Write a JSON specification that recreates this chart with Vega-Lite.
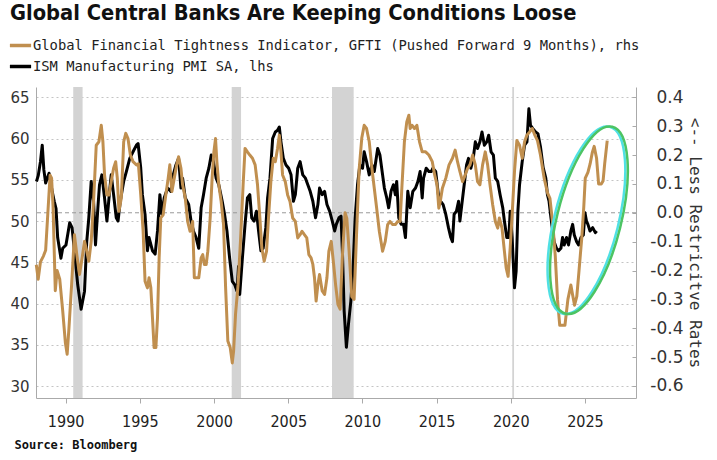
{
  "$schema": "https://vega.github.io/schema/vega-lite/v6.json",
  "width": 600,
  "height": 311,
  "autosize": {"type": "none"},
  "padding": {"left": 36, "top": 87, "right": 81, "bottom": 62},
  "background": "white",
  "config": {"view": {"stroke": null}, "font": "DejaVu Sans"},
  "title": {"text": "Global Central Banks Are Keeping Conditions Loose", "anchor": "start", "frame": "group", "font": "DejaVu Sans Condensed", "fontWeight": "bold", "fontSize": 21.7, "color": "#111111", "dx": -26, "offset": 8},
  "datasets": {
    "rec": [{"s": 1990.51, "e": 1991.14}, {"s": 2001.19, "e": 2001.82}, {"s": 2007.95, "e": 2009.41}, {"s": 2020.1, "e": 2020.22}],
    "pmi": [
      {"t":1988.03,"v":54.8},{"t":1988.15,"v":55.5},{"t":1988.3,"v":57.2},{"t":1988.42,"v":59.2},{"t":1988.53,"v":56.2},{"t":1988.65,"v":54.6},{"t":1988.88,"v":55.8},{"t":1989.1,"v":53.5},{"t":1989.23,"v":52.4},{"t":1989.35,"v":51.5},{"t":1989.46,"v":48},{"t":1989.68,"v":45.5},{"t":1989.8,"v":46.7},{"t":1990.02,"v":47.1},{"t":1990.15,"v":48.5},{"t":1990.27,"v":49.8},{"t":1990.43,"v":49.2},{"t":1990.59,"v":46.4},{"t":1990.81,"v":42.3},{"t":1991.04,"v":39.3},{"t":1991.27,"v":41.5},{"t":1991.42,"v":47.5},{"t":1991.56,"v":50.4},{"t":1991.72,"v":54.8},{"t":1991.88,"v":52.4},{"t":1992.01,"v":47.1},{"t":1992.17,"v":51.6},{"t":1992.28,"v":54.4},{"t":1992.44,"v":55.6},{"t":1992.62,"v":52.8},{"t":1992.78,"v":50},{"t":1992.96,"v":53.6},{"t":1993.07,"v":55.6},{"t":1993.23,"v":53.2},{"t":1993.41,"v":50.4},{"t":1993.53,"v":50},{"t":1993.68,"v":52.4},{"t":1993.91,"v":54.8},{"t":1994.09,"v":56},{"t":1994.32,"v":57.6},{"t":1994.54,"v":58.4},{"t":1994.77,"v":59.2},{"t":1994.88,"v":59.4},{"t":1995.06,"v":56.4},{"t":1995.17,"v":53.2},{"t":1995.35,"v":50.8},{"t":1995.51,"v":46.4},{"t":1995.62,"v":48},{"t":1995.85,"v":46.4},{"t":1996.03,"v":46},{"t":1996.19,"v":48.8},{"t":1996.35,"v":53.2},{"t":1996.48,"v":50.8},{"t":1996.64,"v":52.8},{"t":1996.87,"v":54},{"t":1997.09,"v":53.6},{"t":1997.25,"v":55.6},{"t":1997.43,"v":56.8},{"t":1997.61,"v":57.6},{"t":1997.77,"v":54},{"t":1997.88,"v":55.2},{"t":1998.06,"v":52.8},{"t":1998.29,"v":52},{"t":1998.45,"v":50},{"t":1998.61,"v":48.8},{"t":1998.79,"v":48},{"t":1998.97,"v":46.7},{"t":1999.13,"v":51.6},{"t":1999.29,"v":53.2},{"t":1999.47,"v":55.2},{"t":1999.65,"v":56.4},{"t":1999.81,"v":58},{"t":1999.96,"v":57.2},{"t":2000.14,"v":55.2},{"t":2000.32,"v":54.4},{"t":2000.55,"v":52.4},{"t":2000.71,"v":50.8},{"t":2000.87,"v":48.8},{"t":2001.05,"v":45.5},{"t":2001.23,"v":42.7},{"t":2001.39,"v":42.3},{"t":2001.55,"v":41.5},{"t":2001.65,"v":44.5},{"t":2001.73,"v":41.1},{"t":2001.91,"v":45.5},{"t":2002.09,"v":49.6},{"t":2002.25,"v":52.8},{"t":2002.41,"v":53.2},{"t":2002.54,"v":50.4},{"t":2002.7,"v":50},{"t":2002.86,"v":51.2},{"t":2003.0,"v":48.8},{"t":2003.16,"v":46.4},{"t":2003.31,"v":46.7},{"t":2003.49,"v":49.2},{"t":2003.61,"v":52.8},{"t":2003.77,"v":55.2},{"t":2003.95,"v":60},{"t":2004.13,"v":60.8},{"t":2004.28,"v":61},{"t":2004.4,"v":61.4},{"t":2004.51,"v":59.6},{"t":2004.67,"v":57.6},{"t":2004.85,"v":56.8},{"t":2005.03,"v":56.4},{"t":2005.19,"v":55.6},{"t":2005.35,"v":52.4},{"t":2005.48,"v":53.2},{"t":2005.64,"v":56.4},{"t":2005.8,"v":57.2},{"t":2005.98,"v":55.6},{"t":2006.16,"v":55.2},{"t":2006.32,"v":54.4},{"t":2006.48,"v":53.6},{"t":2006.66,"v":52.4},{"t":2006.84,"v":50.4},{"t":2007.0,"v":52},{"t":2007.11,"v":54},{"t":2007.29,"v":53.2},{"t":2007.45,"v":53.6},{"t":2007.61,"v":52},{"t":2007.79,"v":51.2},{"t":2007.97,"v":50},{"t":2008.13,"v":48.8},{"t":2008.24,"v":49.6},{"t":2008.42,"v":50.4},{"t":2008.56,"v":50.6},{"t":2008.65,"v":46.4},{"t":2008.77,"v":39.1},{"t":2008.92,"v":34.7},{"t":2009.06,"v":37.5},{"t":2009.22,"v":40.3},{"t":2009.37,"v":44.3},{"t":2009.51,"v":50.4},{"t":2009.67,"v":54.4},{"t":2009.83,"v":56.8},{"t":2010.01,"v":56.4},{"t":2010.12,"v":58.4},{"t":2010.28,"v":57.2},{"t":2010.46,"v":55.6},{"t":2010.64,"v":56.8},{"t":2010.8,"v":56},{"t":2011.03,"v":58.8},{"t":2011.18,"v":58},{"t":2011.36,"v":55.6},{"t":2011.48,"v":54},{"t":2011.64,"v":52.8},{"t":2011.77,"v":51.6},{"t":2011.93,"v":53.6},{"t":2012.09,"v":54.4},{"t":2012.22,"v":53.2},{"t":2012.31,"v":54.8},{"t":2012.45,"v":50.4},{"t":2012.61,"v":49.6},{"t":2012.77,"v":49.6},{"t":2012.9,"v":48},{"t":2013.06,"v":53.6},{"t":2013.22,"v":51.6},{"t":2013.4,"v":53.6},{"t":2013.58,"v":54},{"t":2013.74,"v":54.8},{"t":2013.89,"v":56},{"t":2014.03,"v":52.8},{"t":2014.12,"v":55.2},{"t":2014.3,"v":56.4},{"t":2014.48,"v":56},{"t":2014.64,"v":56},{"t":2014.75,"v":56.4},{"t":2014.94,"v":56},{"t":2015.12,"v":53.2},{"t":2015.28,"v":52.4},{"t":2015.44,"v":52},{"t":2015.62,"v":50.8},{"t":2015.8,"v":49.2},{"t":2015.96,"v":48},{"t":2016.07,"v":47.5},{"t":2016.18,"v":50.8},{"t":2016.34,"v":51.2},{"t":2016.48,"v":52.4},{"t":2016.57,"v":50},{"t":2016.7,"v":52},{"t":2016.86,"v":54.4},{"t":2017.02,"v":56.8},{"t":2017.15,"v":57.6},{"t":2017.31,"v":56.4},{"t":2017.47,"v":57.6},{"t":2017.61,"v":59.6},{"t":2017.76,"v":58.8},{"t":2017.92,"v":59.6},{"t":2018.06,"v":60.8},{"t":2018.22,"v":59.2},{"t":2018.38,"v":59.6},{"t":2018.51,"v":60.4},{"t":2018.67,"v":58.4},{"t":2018.83,"v":58},{"t":2018.96,"v":55.2},{"t":2019.12,"v":54.8},{"t":2019.28,"v":53.2},{"t":2019.46,"v":51.6},{"t":2019.57,"v":50},{"t":2019.73,"v":48},{"t":2019.87,"v":48},{"t":2019.96,"v":51.2},{"t":2020.09,"v":48},{"t":2020.25,"v":41.9},{"t":2020.36,"v":43.9},{"t":2020.48,"v":51.2},{"t":2020.59,"v":54.4},{"t":2020.77,"v":57.2},{"t":2020.93,"v":59.2},{"t":2021.09,"v":59.6},{"t":2021.22,"v":63.6},{"t":2021.33,"v":61.6},{"t":2021.49,"v":61.2},{"t":2021.67,"v":60.8},{"t":2021.83,"v":60.6},{"t":2022.0,"v":59},{"t":2022.18,"v":56.5},{"t":2022.36,"v":55.2},{"t":2022.47,"v":53.2},{"t":2022.58,"v":52.4},{"t":2022.7,"v":50.5},{"t":2022.81,"v":49},{"t":2022.92,"v":47.5},{"t":2023.08,"v":46.7},{"t":2023.22,"v":46.4},{"t":2023.38,"v":46.7},{"t":2023.49,"v":48},{"t":2023.6,"v":47.1},{"t":2023.76,"v":48},{"t":2023.89,"v":47.1},{"t":2024.05,"v":48.8},{"t":2024.17,"v":49.6},{"t":2024.28,"v":48.3},{"t":2024.44,"v":47.5},{"t":2024.57,"v":47.1},{"t":2024.73,"v":48},{"t":2024.89,"v":48.3},{"t":2025.0,"v":51},{"t":2025.1,"v":50},{"t":2025.2,"v":49.6},{"t":2025.34,"v":48.8},{"t":2025.52,"v":49.2},{"t":2025.7,"v":48.6},{"t":2025.79,"v":48.8}
    ],
    "gfti": [
      {"t":1988.02,"v":-0.18},{"t":1988.15,"v":-0.23},{"t":1988.3,"v":-0.17},{"t":1988.5,"v":-0.15},{"t":1988.65,"v":-0.13},{"t":1988.8,"v":0.0},{"t":1988.95,"v":0.13},{"t":1989.05,"v":0.12},{"t":1989.15,"v":0.02},{"t":1989.3,"v":-0.27},{"t":1989.42,"v":-0.2},{"t":1989.6,"v":-0.23},{"t":1989.8,"v":-0.34},{"t":1989.98,"v":-0.45},{"t":1990.1,"v":-0.49},{"t":1990.22,"v":-0.4},{"t":1990.4,"v":-0.25},{"t":1990.59,"v":-0.076},{"t":1990.75,"v":-0.145},{"t":1990.93,"v":-0.214},{"t":1991.11,"v":-0.156},{"t":1991.27,"v":-0.099},{"t":1991.42,"v":-0.133},{"t":1991.56,"v":-0.168},{"t":1991.72,"v":-0.099},{"t":1991.88,"v":0.039},{"t":1992.06,"v":0.234},{"t":1992.24,"v":0.246},{"t":1992.4,"v":0.303},{"t":1992.51,"v":0.246},{"t":1992.62,"v":0.131},{"t":1992.78,"v":0.062},{"t":1992.92,"v":0.062},{"t":1993.07,"v":0.108},{"t":1993.23,"v":0.154},{"t":1993.37,"v":0.177},{"t":1993.48,"v":0.12},{"t":1993.59,"v":0.005},{"t":1993.75,"v":0.051},{"t":1993.91,"v":0.246},{"t":1994.05,"v":0.275},{"t":1994.2,"v":0.257},{"t":1994.36,"v":0.2},{"t":1994.54,"v":0.177},{"t":1994.77,"v":0.166},{"t":1994.9,"v":0.17},{"t":1995.06,"v":0.062},{"t":1995.22,"v":-0.064},{"t":1995.35,"v":-0.237},{"t":1995.51,"v":-0.26},{"t":1995.62,"v":-0.225},{"t":1995.74,"v":-0.26},{"t":1995.85,"v":-0.363},{"t":1995.96,"v":-0.467},{"t":1996.08,"v":-0.467},{"t":1996.19,"v":-0.363},{"t":1996.3,"v":-0.156},{"t":1996.41,"v":-0.018},{"t":1996.57,"v":-0.007},{"t":1996.75,"v":0.062},{"t":1996.91,"v":0.12},{"t":1997.02,"v":0.166},{"t":1997.16,"v":0.074},{"t":1997.32,"v":0.12},{"t":1997.48,"v":0.166},{"t":1997.61,"v":0.194},{"t":1997.77,"v":0.154},{"t":1997.88,"v":0.097},{"t":1998.06,"v":0.051},{"t":1998.22,"v":-0.03},{"t":1998.38,"v":-0.064},{"t":1998.56,"v":-0.03},{"t":1998.67,"v":-0.225},{"t":1998.79,"v":-0.225},{"t":1998.97,"v":-0.225},{"t":1999.13,"v":-0.156},{"t":1999.24,"v":-0.145},{"t":1999.35,"v":-0.179},{"t":1999.47,"v":-0.179},{"t":1999.58,"v":-0.133},{"t":1999.74,"v":-0.018},{"t":1999.87,"v":0.12},{"t":1999.99,"v":0.211},{"t":2000.1,"v":0.257},{"t":2000.19,"v":0.177},{"t":2000.32,"v":0.097},{"t":2000.48,"v":0.039},{"t":2000.64,"v":-0.041},{"t":2000.78,"v":-0.26},{"t":2000.93,"v":-0.444},{"t":2001.09,"v":-0.467},{"t":2001.23,"v":-0.52},{"t":2001.32,"v":-0.478},{"t":2001.45,"v":-0.35},{"t":2001.62,"v":-0.25},{"t":2001.78,"v":-0.1},{"t":2001.96,"v":0.097},{"t":2002.09,"v":0.223},{"t":2002.25,"v":0.211},{"t":2002.41,"v":0.2},{"t":2002.59,"v":0.189},{"t":2002.77,"v":0.166},{"t":2002.93,"v":0.097},{"t":2003.09,"v":-0.018},{"t":2003.22,"v":-0.122},{"t":2003.38,"v":-0.168},{"t":2003.54,"v":-0.133},{"t":2003.67,"v":-0.018},{"t":2003.83,"v":0.108},{"t":2003.99,"v":0.189},{"t":2004.13,"v":0.177},{"t":2004.28,"v":0.223},{"t":2004.4,"v":0.269},{"t":2004.51,"v":0.211},{"t":2004.62,"v":0.131},{"t":2004.8,"v":0.108},{"t":2004.96,"v":0.062},{"t":2005.12,"v":0.039},{"t":2005.3,"v":-0.018},{"t":2005.48,"v":-0.03},{"t":2005.64,"v":-0.087},{"t":2005.8,"v":-0.076},{"t":2005.93,"v":-0.064},{"t":2006.09,"v":-0.076},{"t":2006.25,"v":-0.087},{"t":2006.39,"v":-0.145},{"t":2006.54,"v":-0.156},{"t":2006.66,"v":-0.179},{"t":2006.77,"v":-0.225},{"t":2006.88,"v":-0.306},{"t":2007.0,"v":-0.248},{"t":2007.11,"v":-0.214},{"t":2007.29,"v":-0.271},{"t":2007.45,"v":-0.283},{"t":2007.61,"v":-0.225},{"t":2007.74,"v":-0.133},{"t":2007.9,"v":-0.099},{"t":2008.06,"v":-0.179},{"t":2008.19,"v":-0.248},{"t":2008.35,"v":-0.317},{"t":2008.5,"v":-0.334},{"t":2008.65,"v":-0.15},{"t":2008.83,"v":0.0},{"t":2008.95,"v":-0.02},{"t":2009.1,"v":-0.13},{"t":2009.28,"v":-0.29},{"t":2009.44,"v":-0.3},{"t":2009.6,"v":-0.08},{"t":2009.78,"v":0.15},{"t":2009.96,"v":0.26},{"t":2010.12,"v":0.303},{"t":2010.28,"v":0.292},{"t":2010.46,"v":0.246},{"t":2010.64,"v":0.154},{"t":2010.8,"v":0.085},{"t":2010.96,"v":0.016},{"t":2011.14,"v":-0.064},{"t":2011.36,"v":-0.133},{"t":2011.54,"v":-0.099},{"t":2011.7,"v":-0.041},{"t":2011.86,"v":-0.03},{"t":2012.04,"v":-0.041},{"t":2012.22,"v":-0.041},{"t":2012.38,"v":-0.03},{"t":2012.54,"v":-0.03},{"t":2012.67,"v":0.097},{"t":2012.83,"v":0.246},{"t":2012.99,"v":0.315},{"t":2013.13,"v":0.338},{"t":2013.22,"v":0.292},{"t":2013.35,"v":0.303},{"t":2013.51,"v":0.292},{"t":2013.67,"v":0.303},{"t":2013.85,"v":0.246},{"t":2014.03,"v":0.211},{"t":2014.26,"v":0.211},{"t":2014.48,"v":0.2},{"t":2014.71,"v":0.177},{"t":2014.87,"v":0.131},{"t":2015.03,"v":0.097},{"t":2015.15,"v":0.016},{"t":2015.25,"v":0.04},{"t":2015.39,"v":0.085},{"t":2015.62,"v":0.12},{"t":2015.84,"v":0.166},{"t":2016.07,"v":0.189},{"t":2016.25,"v":0.217},{"t":2016.41,"v":0.177},{"t":2016.57,"v":0.143},{"t":2016.75,"v":0.108},{"t":2016.93,"v":0.131},{"t":2017.09,"v":0.154},{"t":2017.25,"v":0.166},{"t":2017.43,"v":0.2},{"t":2017.61,"v":0.166},{"t":2017.76,"v":0.108},{"t":2017.92,"v":0.097},{"t":2018.1,"v":0.166},{"t":2018.28,"v":0.211},{"t":2018.44,"v":0.166},{"t":2018.6,"v":0.097},{"t":2018.78,"v":0.028},{"t":2018.96,"v":-0.03},{"t":2019.12,"v":-0.053},{"t":2019.23,"v":-0.018},{"t":2019.41,"v":-0.053},{"t":2019.57,"v":-0.133},{"t":2019.69,"v":-0.191},{"t":2019.82,"v":-0.22},{"t":2019.96,"v":-0.122},{"t":2020.09,"v":-0.007},{"t":2020.25,"v":0.143},{"t":2020.41,"v":0.25},{"t":2020.59,"v":0.234},{"t":2020.77,"v":0.189},{"t":2020.93,"v":0.246},{"t":2021.09,"v":0.269},{"t":2021.27,"v":0.28},{"t":2021.45,"v":0.292},{"t":2021.61,"v":0.27},{"t":2021.8,"v":0.25},{"t":2022.0,"v":0.2},{"t":2022.25,"v":0.12},{"t":2022.47,"v":0.07},{"t":2022.64,"v":0.05},{"t":2022.85,"v":-0.05},{"t":2023.0,"v":-0.15},{"t":2023.15,"v":-0.3},{"t":2023.3,"v":-0.39},{"t":2023.65,"v":-0.39},{"t":2023.85,"v":-0.3},{"t":2024.05,"v":-0.25},{"t":2024.15,"v":-0.28},{"t":2024.3,"v":-0.32},{"t":2024.45,"v":-0.29},{"t":2024.6,"v":-0.2},{"t":2024.78,"v":-0.09},{"t":2024.92,"v":0.02},{"t":2025.02,"v":0.12},{"t":2025.2,"v":0.14},{"t":2025.35,"v":0.17},{"t":2025.5,"v":0.21},{"t":2025.62,"v":0.23},{"t":2025.78,"v":0.19},{"t":2025.92,"v":0.1},{"t":2026.1,"v":0.1},{"t":2026.22,"v":0.11},{"t":2026.33,"v":0.17},{"t":2026.5,"v":0.25}
    ],
    "ell1": [{"t": 2025.1, "v": 50.1}],
    "ell2": [{"t": 2025.27, "v": 50.1}]
  },
  "layer": [
    {
      "data": {"name": "rec"},
      "mark": {"type": "rect", "color": "#d3d3d3"},
      "encoding": {
        "x": {"field": "s", "type": "quantitative", "title": "Source: Bloomberg",
          "scale": {"domain": [1988, 2028.44], "nice": false, "zero": false},
          "axis": {"values": [1990, 1995, 2000, 2005, 2010, 2015, 2020, 2025], "format": "d", "labelFont": "DejaVu Sans Condensed", "labelFontSize": 16, "labelColor": "#222222", "labelPadding": 10, "tickSize": 5, "tickColor": "#aaaaaa", "domainColor": "#aaaaaa", "grid": false, "titleFont": "DejaVu Sans Mono", "titleFontWeight": "bold", "titleFontSize": 12, "titleColor": "#111111", "titleAnchor": "start", "titleAlign": "left", "titleBaseline": "middle", "titleX": -22, "titleY": 46}},
        "x2": {"field": "e"}
      }
    },
    {
      "data": {"values": [{}]},
      "mark": {"type": "rule", "color": "#999999", "strokeDash": [4, 3], "strokeWidth": 1},
      "encoding": {"y": {"datum": 0, "type": "quantitative", "scale": {"domain": [-0.6416, 0.4357], "nice": false, "zero": false}, "axis": null}}
    },
    {
      "data": {"name": "pmi"},
      "mark": {"type": "line", "strokeWidth": 3, "strokeJoin": "round"},
      "encoding": {
        "x": {"field": "t", "type": "quantitative", "title": "Source: Bloomberg"},
        "y": {"field": "v", "type": "quantitative", "scale": {"domain": [28.55, 66.25], "nice": false, "zero": false},
          "axis": {"orient": "left", "values": [30, 35, 40, 45, 50, 55, 60, 65], "title": null, "labelFont": "DejaVu Sans", "labelFontSize": 15, "labelColor": "#333333", "ticks": false, "labelPadding": 7, "domainColor": "#aaaaaa", "grid": true, "gridDash": [2, 3], "gridColor": "#c4c4c4"}},
        "color": {"datum": "ISM Manufacturing PMI SA, lhs", "type": "nominal",
          "scale": {"domain": ["Global Financial Tightness Indicator, GFTI (Pushed Forward 9 Months), rhs", "ISM Manufacturing PMI SA, lhs"], "range": ["#c08f4f", "#000000"]},
          "legend": {"orient": "none", "legendX": -28, "legendY": -54, "title": null, "symbolType": "stroke", "symbolSize": 450, "symbolStrokeWidth": 3.5, "labelFont": "DejaVu Sans Mono", "labelFontSize": 13.8, "labelColor": "#222222", "labelLimit": 1000, "rowPadding": 1, "labelOffset": 0, "padding": 0}}
      }
    },
    {
      "data": {"name": "gfti"},
      "mark": {"type": "line", "strokeWidth": 3, "strokeJoin": "round"},
      "encoding": {
        "x": {"field": "t", "type": "quantitative", "title": "Source: Bloomberg"},
        "y": {"field": "v", "type": "quantitative", "scale": {"domain": [-0.6416, 0.4357], "nice": false, "zero": false},
          "axis": {"orient": "right", "values": [-0.6, -0.5, -0.4, -0.3, -0.2, -0.1, 0, 0.1, 0.2, 0.3, 0.4], "format": ".1f", "labelExpr": "replace(datum.label, '−', '-')", "labelFont": "DejaVu Sans", "labelFontSize": 17, "labelColor": "#333333", "labelAlign": "right", "tickSize": -4, "tickColor": "#aaaaaa", "domainColor": "#aaaaaa", "labelPadding": 51, "grid": false, "title": "<-- Less Restricitve Rates", "titleFont": "DejaVu Sans Mono", "titleFontSize": 16, "titleFontWeight": "normal", "titleColor": "#333333", "titlePadding": 3}},
        "color": {"datum": "Global Financial Tightness Indicator, GFTI (Pushed Forward 9 Months), rhs", "type": "nominal",
          "scale": {"domain": ["Global Financial Tightness Indicator, GFTI (Pushed Forward 9 Months), rhs", "ISM Manufacturing PMI SA, lhs"], "range": ["#c08f4f", "#000000"]}}
      }
    },
    {
      "data": {"name": "ell1"},
      "mark": {"type": "point", "shape": "M0,-1C0.184,-1 0.333,-0.552 0.333,0C0.333,0.552 0.184,1 0,1C-0.184,1 -0.333,0.552 -0.333,0C-0.333,-0.552 -0.184,-1 0,-1Z", "size": 37095, "angle": 14, "filled": false, "stroke": "#4fe0e4", "strokeWidth": 2.5, "opacity": 1},
      "encoding": {
        "x": {"field": "t", "type": "quantitative", "title": "Source: Bloomberg"},
        "y": {"field": "v", "type": "quantitative", "scale": {"domain": [28.55, 66.25], "nice": false, "zero": false}, "axis": null}
      }
    },
    {
      "data": {"name": "ell2"},
      "mark": {"type": "point", "shape": "M0,-1C0.184,-1 0.333,-0.552 0.333,0C0.333,0.552 0.184,1 0,1C-0.184,1 -0.333,0.552 -0.333,0C-0.333,-0.552 -0.184,-1 0,-1Z", "size": 37095, "angle": 14, "filled": false, "stroke": "#4cc463", "strokeWidth": 2.5, "opacity": 1},
      "encoding": {
        "x": {"field": "t", "type": "quantitative", "title": "Source: Bloomberg"},
        "y": {"field": "v", "type": "quantitative", "scale": {"domain": [28.55, 66.25], "nice": false, "zero": false}, "axis": null}
      }
    }
  ],
  "resolve": {"scale": {"y": "independent"}}
}
